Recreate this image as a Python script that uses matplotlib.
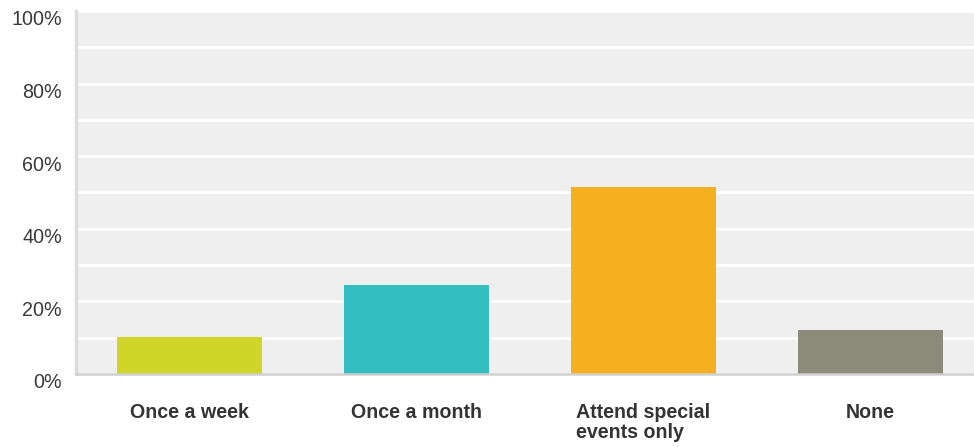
import matplotlib.pyplot as plt
import matplotlib.transforms as mtransforms
from matplotlib.ticker import MultipleLocator

categories = ["Once a week", "Once a month", "Attend special\nevents only", "None"]
values = [10.2, 24.5, 51.5, 12.1]
colors = ["#d0d52a", "#33bec0", "#f6b01f", "#8a8b7a"]
y_ticks = [0, 20, 40, 60, 80, 100]
y_labels = ["0%", "20%", "40%", "60%", "80%", "100%"]

plt.rcParams['font.family'] = ['Liberation Sans', 'DejaVu Sans']

W, H = 974, 447
fig = plt.figure(figsize=(W / 100, H / 100), dpi=100)
left, right, top, bottom = 76, 974, 11, 374
ax = fig.add_axes([left / W, 1 - bottom / H, (right - left) / W, (bottom - top) / H])
ax.set_facecolor("#efefef")

x = list(range(len(categories)))
ax.bar(x, values, width=0.643, color=colors, zorder=3)

ax.set_xlim(-0.5, -0.5 + (right - left) / 227)
ax.set_ylim(0, 100)
ax.yaxis.set_minor_locator(MultipleLocator(10))
ax.set_yticks(y_ticks)
ax.set_yticklabels(y_labels, fontsize=14.2, color="#3a3a3a")
ax.grid(axis='y', which='both', color='white', linewidth=2, zorder=1)
ax.tick_params(axis='y', which='both', length=0, pad=10)

# labels sit a little below their gridline in the original
shift = mtransforms.ScaledTranslation(0, -7 / 100, fig.dpi_scale_trans)
for lbl in ax.get_yticklabels():
    lbl.set_transform(lbl.get_transform() + shift)

ax.set_xticks(x)
ax.set_xticklabels(categories, fontsize=14.1, fontweight='bold', color="#333333",
                   va='top', multialignment='left', linespacing=1.05)
ax.tick_params(axis='x', length=0, pad=21)

for side in ['top', 'right']:
    ax.spines[side].set_visible(False)
ax.spines['left'].set_color('#dcdcdc')
ax.spines['left'].set_linewidth(2.5)
ax.spines['bottom'].set_color('#d0d0d0')
ax.spines['bottom'].set_linewidth(1.8)
ax.spines['bottom'].set_zorder(4)

fig.savefig("out.png", dpi=100)
